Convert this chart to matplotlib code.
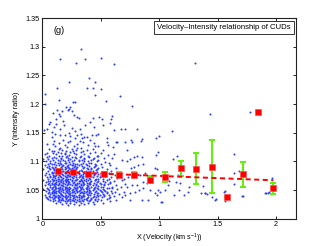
import numpy as np
import matplotlib
matplotlib.use('Agg')
import matplotlib.pyplot as plt

plt.rcParams['font.family'] = ['Liberation Sans', 'DejaVu Sans']
plt.rcParams['mathtext.fontset'] = 'custom'
plt.rcParams['mathtext.rm'] = 'Liberation Sans'
plt.rcParams['mathtext.it'] = 'Liberation Sans'

# sparse scatter points (velocity, intensity ratio)
sparse_x = [0.328, 0.154, 0.291, 0.363, 0.500, 0.611, 0.228, 0.402, 0.448, 0.026, 0.023, 0.126,
            0.140, 0.380, 0.434, 0.500, 0.448, 0.545, 0.665, 0.767, 1.309, 1.435, 1.774, 0.265,
            0.280, 0.234, 0.217, 0.200, 0.231, 0.094, 0.123, 0.146, 0.154, 0.120, 0.169, 0.251,
            0.274, 0.300, 0.314, 0.431, 0.488, 0.508, 0.596, 0.585, 0.066, 0.117, 0.174, 0.188,
            0.100, 0.043, 0.057, 0.151, 0.257, 0.280, 0.231, 0.322, 0.365, 0.408, 0.445, 0.522,
            0.579, 0.613, 0.673, 0.707, 0.807, 0.015, 0.080, 0.109, 0.194, 0.294, 0.337, 0.380,
            0.422, 0.479, 0.551, 0.636, 0.707, 0.765, 0.565, 0.607, 0.722,
            1.112, 0.996, 0.970, 0.853, 0.842, 0.759, 0.630, 0.993, 0.973, 0.855, 0.807, 0.784,
            0.750, 0.722, 0.679, 1.121, 0.864, 0.821, 0.787, 0.756, 0.964, 0.984, 0.881, 0.836,
            0.736, 0.699, 0.859, 0.893, 0.807, 0.765, 0.722, 0.864, 0.830, 0.793, 0.750, 0.707,
            0.921, 0.964, 0.993, 0.979, 1.050, 1.078, 1.086, 1.015, 0.902, 0.850, 0.750, 1.127,
            1.172, 1.212, 1.258, 1.249, 1.360, 1.390, 1.141, 1.163, 1.150, 1.178, 1.372, 1.406,
            1.483, 1.563, 1.637, 1.642, 1.685, 1.714, 1.911, 1.937, 1.968, 1.007, 1.021, 1.554,
            1.563, 1.454, 1.477, 1.392, 1.711, 1.905, 1.933, 1.640]
sparse_y = [1.2955, 1.278, 1.2716, 1.2786, 1.280, 1.270, 1.2385, 1.245, 1.2385, 1.218, 1.200, 1.228,
            1.207, 1.2276, 1.2276, 1.2264, 1.215, 1.2055, 1.2137, 1.196, 1.2723, 1.183, 1.186, 1.203,
            1.203, 1.194, 1.190, 1.195, 1.1915, 1.1846, 1.189, 1.182, 1.1794, 1.174, 1.187, 1.187,
            1.180, 1.1766, 1.176, 1.175, 1.1766, 1.174, 1.1794, 1.174, 1.169, 1.166, 1.170, 1.164,
            1.160, 1.157, 1.166, 1.157, 1.158, 1.153, 1.149, 1.157, 1.163, 1.168, 1.160, 1.164,
            1.167, 1.1545, 1.1557, 1.157, 1.157, 1.1545, 1.1515, 1.147, 1.1457, 1.1457, 1.140, 1.143,
            1.1457, 1.147, 1.140, 1.134, 1.134, 1.134, 1.128, 1.125, 1.120,
            1.153, 1.1445, 1.141, 1.139, 1.135, 1.137, 1.133, 1.1167, 1.111, 1.107, 1.109, 1.107,
            1.1035, 1.1005, 1.102, 1.1035, 1.095, 1.0935, 1.0905, 1.089, 1.089, 1.0865, 1.080, 1.076,
            1.073, 1.070, 1.0644, 1.0616, 1.0587, 1.0587, 1.0557, 1.053, 1.0494, 1.047, 1.0442, 1.0413,
            1.050, 1.0442, 1.0494, 1.0413, 1.050, 1.0587, 1.0656, 1.0286, 1.0326, 1.0326, 1.0326, 1.0413,
            1.050, 1.0413, 1.0557, 1.047, 1.0453, 1.0453, 1.0634, 1.076, 1.1087, 1.062, 1.0575, 1.0435,
            1.034, 1.0477, 1.1127, 1.060, 1.0825, 1.040, 1.0453, 1.046, 1.071, 1.046, 1.029, 1.047,
            1.031, 1.0383, 1.0326, 1.0442, 1.040, 1.0442, 1.0447, 1.079]

# dense cloud, one row per intensity level: "ratio offset (x1000) : velocities (x100)"
cloud_rows = """
24: 22 31
25: 27
26: 17 36 44
27: 24 39
28: 12 20 33 52
29: 15 29 43
30: 09 19 24 35 47 21 32 40
31: 13 27 31 58
32: 07 18 22 38 50 14 26 30 45
33: 11 16 25 34 41 63
34: 05 20 28 45 55 09 17 24 36 42
35: 14 23 31 37 48
36: 04 10 17 26 42 57 13 20 33 38
37: 08 13 21 30 34 51 68
38: 03 15 24 27 39 46 07 11 19 31 43 58
39: 11 19 33 36 53 61
40: 06 14 22 29 44 12 18 26 35 48
41: 09 17 25 31 41 49 57
42: 02 13 20 27 35 47 10 16 24 31 39 53
43: 07 16 23 38 44 52 66
44: 10 19 28 32 42 60 08 15 22 36 47
45: 05 12 24 35 40 48 55
46: 14 18 21 30 45 62 06 10 25 34 40 55
47: 08 11 26 33 37 51 70
48: 03 16 20 27 41 46 12 23 30 38 50
49: 09 13 23 31 36 54 59
50: 06 18 25 29 43 49 10 14 21 32 40 53
51: 11 15 22 33 38 64
52: 01 08 19 26 35 44 52 05 17 23 29 38 48
53: 12 14 21 30 40 47 57
54: 04 17 24 28 37 55 08 13 20 33 44 60
55: 09 20 32 42 50 67
56: 07 15 23 27 34 45 60 11 19 30 38 52
57: 11 18 31 39 48
58: 02 13 21 25 38 53 63 07 17 28 35 46
59: 10 16 29 33 43
60: 05 19 24 36 46 56 10 14 22 33 40 53
61: 08 12 28 30 41 50 71
62: 14 22 26 35 44 08 18 30 38 49
63: 06 11 18 31 40 58
64: 03 16 23 27 47 54 12 20 35 41 58
65: 09 13 20 32 37 61
66: 07 15 25 34 42 52 05 18 22 31 48
67: 10 19 29 39 45 68
68: 01 12 21 28 36 55 09 16 25 33 45
69: 08 17 24 33 41 48
70: 05 14 22 30 46 57 13 20 37 52
71: 11 18 26 35 40 64
72: 04 09 16 25 38 49 07 20 29 34
73: 13 21 31 43 59
74: 07 15 19 27 42 54 11 24 35 50
75: 10 23 32 37 47
76: 02 14 18 29 44 62 09 21 33 40
77: 12 22 26 39 50
78: 06 17 24 35 48 13 26 31 44
79: 09 20 28 41 57
80: 03 15 23 31 45 08 19 27 38
81: 11 19 36 40 66
82: 08 16 25 30 52 11 20 36 47
83: 13 21 34 43
84: 05 18 28 37 59 15 25 31 41
85: 10 22 33 46
86: 01 14 24 39 55 10 19 29 47
87: 07 17 26 42
88: 12 20 29 35 63 06 16 25 42
89: 09 23 38 48
90: 04 16 30 44 08 22 36
91: 11 19 27 51
92: 06 21 34 40 17 28 45
93: 14 25 31 58
94: 02 18 22 46 12 26 38
95: 10 28 37
96: 05 16 33 50 08 24 30 45
97: 13 20 42
98: 07 26 35 15 19 40 57
99: 11 23 54
100: 03 19 31 07 25 36 47
101: 15 39
102: 09 27 48 13 18 31 42
103: 22 34
104: 01 16 43 05 24 36
105: 12 29
106: 08 36 60 16 22 44 53
107: 20 25
108: 04 32 10 28 40
109: 14 47
110: 17 39 06 21 33 48
111: 23 56
112: 02 29 12 19 36 61
114: 09 41 04 16 27 50
115: 19
116: 33 13 24 45
118: 10 26 08 20 35
120: 38 17 29 52
121: 14
122: 06 25 43
123: 30
124: 15 33
125: 21
126: 11 27 48
127: 45
128: 19 39
130: 09 04 30
132: 14 44
133: 35
134: 22 55
136: 24 10 32
138: 18 41
140: 28
142: 08 36
144: 24
146: 15 46
148: 33
"""

# binned means with error bars
bin_x = [0.130, 0.263, 0.394, 0.528, 0.656, 0.787, 0.921, 1.052, 1.186, 1.317, 1.452, 1.583, 1.714, 1.843, 1.976]
bin_y = [1.084, 1.081, 1.078, 1.078, 1.077, 1.077, 1.068, 1.0725, 1.088, 1.087, 1.091, 1.037, 1.0775, 1.186, 1.053]
bin_err = [0.002, 0.002, 0.002, 0.003, 0.004, 0.005, 0.006, 0.0085, 0.0134, 0.027, 0.047, 0.0, 0.0215, 0.0, 0.0098]

# linear fit end points
fit_x = [0.13, 1.976]
fit_y = [1.0815, 1.067]

cloud_x, cloud_y = [], []
for line in cloud_rows.strip().splitlines():
    lev, vals = line.split(':')
    for v in vals.split():
        cloud_x.append(int(v) / 100.0)
        cloud_y.append(1 + int(lev) / 1000.0)

fig = plt.figure(figsize=(3.27, 2.46), dpi=100)
ax = fig.add_axes([0.1294, 0.111, 0.7758, 0.8158])

ax.plot(cloud_x, cloud_y, '.', color='#2a3cff', ms=2.9, mew=0, zorder=2)
ax.plot(sparse_x, sparse_y, '.', color='#2a3cff', ms=2.9, mew=0, zorder=2)
ax.errorbar(bin_x, bin_y, yerr=bin_err, fmt='none', ecolor='#66ee11', elinewidth=1.5,
            capsize=2.2, capthick=1.5, zorder=3)
ax.plot(fit_x, fit_y, color='#ff0000', lw=1.4, ls=(0, (2.6, 1.8)), zorder=4)
ax.plot(bin_x, bin_y, 's', color='#ff0000', ms=4.6, mec='#ff5050', mew=0.5, zorder=5)

ax.set_xlim(0, 2.17)
ax.set_ylim(1, 1.35)
ax.set_xticks([0, 0.5, 1, 1.5, 2])
ax.set_xticklabels(['0', '0.5', '1', '1.5', '2'])
ax.set_yticks([1, 1.05, 1.1, 1.15, 1.2, 1.25, 1.3, 1.35])
ax.set_yticklabels(['1', '1.05', '1.1', '1.15', '1.2', '1.25', '1.3', '1.35'])
ax.tick_params(direction='in', length=2.5, width=0.6, labelsize=5.2, top=True, right=True, pad=2)
for s in ax.spines.values():
    s.set_linewidth(0.8)
    s.set_color('#222222')

ax.set_xlabel('X (Velocity (km s$^{-1}$))', fontsize=5.2, labelpad=2)
ax.set_ylabel('Y (intensity ratio)', fontsize=5.2, labelpad=4)

ax.text(0.094, 1.328, '(g)', fontsize=6.5, va='center', ha='left')
ax.text(0.978, 0.952, 'Velocity\u2013Intensity relationship of CUDs', transform=ax.transAxes,
        fontsize=5.6, ha='right', va='center',
        bbox=dict(boxstyle='square,pad=0.4', fc='white', ec='#333333', lw=0.7))

fig.savefig('out.png', dpi=100)
